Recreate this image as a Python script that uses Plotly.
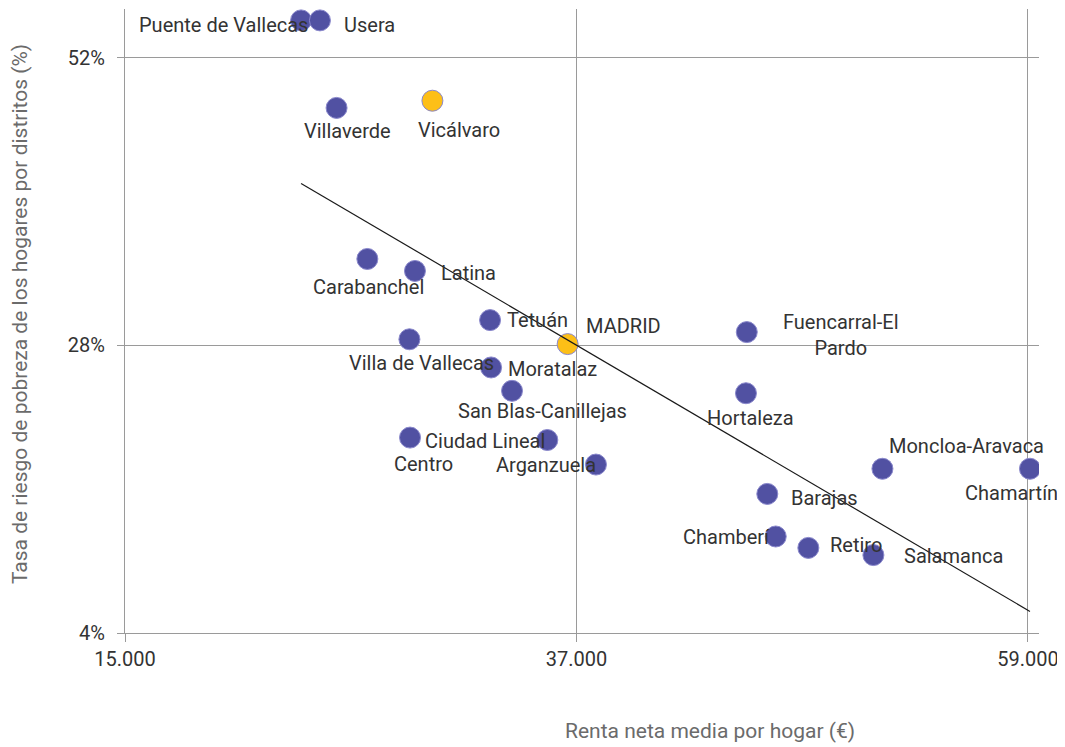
import plotly.graph_objects as go

# ---- data ----
districts = ["Puente de Vallecas", "Usera", "Villaverde", "Vicálvaro", "Carabanchel", "Latina",
             "Tetuán", "MADRID", "Villa de Vallecas", "Moratalaz", "San Blas-Canillejas", "Centro",
             "Ciudad Lineal", "Arganzuela", "Fuencarral-El<br>Pardo", "Hortaleza", "Moncloa-Aravaca",
             "Chamartín", "Barajas", "Chamberí", "Retiro", "Salamanca"]
renta = [23580, 24500, 25310, 29980, 26810, 29130,
         32790, 36570, 28860, 32840, 33860, 28890,
         35580, 37950, 45300, 45260, 51910,
         59100, 46300, 46710, 48300, 51470]
pobreza = [55.1, 55.1, 47.8, 48.4, 35.2, 34.2,
           30.1, 28.1, 28.5, 26.15, 24.2, 20.3,
           20.1, 18.05, 29.1, 24.0, 17.7,
           17.7, 15.6, 12.05, 11.1, 10.5]
highlight = ["Vicálvaro", "MADRID"]

trend_x = [23580, 59100]
trend_y = [41.5, 5.8]

x_ticks = [15000, 37000, 59000]
x_tick_labels = ["15.000", "37.000", "59.000"]
y_ticks = [4, 28, 52]
y_tick_labels = ["4%", "28%", "52%"]

# ---- label offsets (pixels: dx right, dy down) ----
label_offsets = {
    "Puente de Vallecas": (-78, 5), "Usera": (50, 5), "Villaverde": (11, 23),
    "Vicálvaro": (27, 29), "Carabanchel": (1, 28), "Latina": (54, 2),
    "Tetuán": (47, 0), "MADRID": (56, -18), "Villa de Vallecas": (12, 24),
    "Moratalaz": (61, 2), "San Blas-Canillejas": (30, 20), "Centro": (13, 26),
    "Ciudad Lineal": (-62, 1), "Arganzuela": (-50, 0), "Fuencarral-El<br>Pardo": (94, 3),
    "Hortaleza": (5, 25), "Moncloa-Aravaca": (84, -23), "Chamartín": (-18, 24),
    "Barajas": (57, 4), "Chamberí": (-49, 1), "Retiro": (48, -3), "Salamanca": (80, 1),
}

FONT = "Roboto, 'Noto Sans', sans-serif"
BLUE = "#5151a2"
ORANGE = "#fdbf17"

colors = [ORANGE if d in highlight else BLUE for d in districts]

fig = go.Figure()
fig.add_trace(go.Scatter(
    x=renta, y=pobreza, mode="markers",
    marker=dict(size=21, color=colors, line=dict(color="#8a88cc", width=1)),
    hoverinfo="text", text=districts, showlegend=False,
))
fig.add_trace(go.Scatter(
    x=trend_x, y=trend_y, mode="lines",
    line=dict(color="#1a1a1a", width=1.2), showlegend=False, hoverinfo="skip",
))

annotations = []
for d, xv, yv in zip(districts, renta, pobreza):
    dx, dy = label_offsets[d]
    annotations.append(dict(
        x=xv, y=yv, xref="x", yref="y", text=d, showarrow=False,
        xshift=dx, yshift=-dy, xanchor="center", yanchor="middle", align="center",
        font=dict(family=FONT, size=20, color="#333333"),
    ))

# plot area: 1057 x 739 figure placed at (8, 8); plot spans x 125..1039, y 9..632.7
annotations.append(dict(
    text="Tasa de riesgo de pobreza de los hogares por distritos (%)",
    xref="paper", yref="paper", x=-0.1149, y=0.511, textangle=-90,
    showarrow=False, xanchor="center", yanchor="middle",
    font=dict(family=FONT, size=21, color="#6b6b6b"),
))
annotations.append(dict(
    text="Renta neta media por hogar (€)",
    xref="paper", yref="paper", x=0.640, y=-0.1576,
    showarrow=False, xanchor="center", yanchor="middle",
    font=dict(family=FONT, size=21, color="#6b6b6b"),
))

fig.update_layout(
    width=1057, height=739,
    margin=dict(l=117, r=26, t=1, b=114),
    plot_bgcolor="white", paper_bgcolor="white",
    annotations=annotations,
    xaxis=dict(
        range=[15000, 59540], tickvals=x_ticks, ticktext=x_tick_labels,
        showgrid=True, gridcolor="#9a9a9a", gridwidth=1, zeroline=False,
        showline=True, linecolor="#9a9a9a", linewidth=1,
        ticks="outside", ticklen=8, tickcolor="#9a9a9a",
        tickfont=dict(family=FONT, size=20, color="#333333"),
    ),
    yaxis=dict(
        range=[4, 56.05], tickvals=y_ticks, ticktext=y_tick_labels,
        showgrid=True, gridcolor="#9a9a9a", gridwidth=1, zeroline=False,
        showline=True, linecolor="#9a9a9a", linewidth=1,
        ticks="outside", ticklen=7, tickcolor="#9a9a9a",
        tickfont=dict(family=FONT, size=20, color="#333333"),
        ticklabelstandoff=8,
    ),
)

fig.write_html("out.html")
